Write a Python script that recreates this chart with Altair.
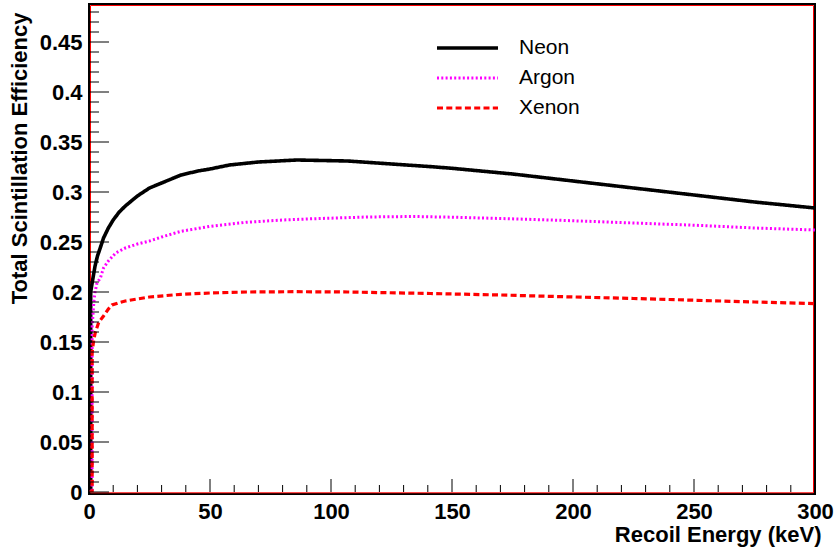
import altair as alt
import pandas as pd

# Total scintillation efficiency vs. nuclear recoil energy (keV)
neon_e = [0, 0.7, 0.7, 1.5, 2.5, 3.5, 4.5, 6, 8, 10, 12.5, 15, 20, 25, 30, 38, 45,
          50, 58, 70, 86, 107, 125, 141, 150, 175, 200, 225, 250, 275, 300]
neon_v = [0, 0, 0.200, 0.212, 0.226, 0.236, 0.243, 0.254, 0.264, 0.272, 0.280, 0.286,
          0.296, 0.304, 0.309, 0.317, 0.321, 0.323, 0.327, 0.330, 0.332, 0.331, 0.328,
          0.3254, 0.3237, 0.318, 0.311, 0.304, 0.297, 0.290, 0.284]

argon_e = [0, 1.3, 1.3, 2, 2.5, 3.3, 4.7, 6, 8, 11, 15, 20, 25, 30, 38, 50, 65, 80,
           93, 115, 134, 150, 170, 196, 225, 251, 275, 300]
argon_v = [0, 0, 0.165, 0.190, 0.200, 0.209, 0.214, 0.224, 0.231, 0.239, 0.244, 0.248,
           0.251, 0.255, 0.2607, 0.2657, 0.2697, 0.272, 0.2733, 0.275, 0.2755, 0.2748,
           0.2735, 0.2716, 0.269, 0.2667, 0.264, 0.262]

xenon_e = [0, 1.3, 1.3, 1.9, 2.6, 4, 6, 8, 9.5, 12, 15, 20, 25, 38, 50, 65, 85, 107,
           141, 170, 196, 225, 251, 275, 300]
xenon_v = [0, 0, 0.140, 0.151, 0.1595, 0.1695, 0.176, 0.183, 0.187, 0.189, 0.191,
           0.193, 0.195, 0.1977, 0.199, 0.200, 0.2003, 0.200, 0.1985, 0.197, 0.1953,
           0.1935, 0.1917, 0.190, 0.1884]

series_names = ["Neon", "Argon", "Xenon"]
series_colors = ["#000000", "#ff00ff", "#ff0000"]
series_dash = [[1, 0], [2, 2.3], [6, 3.3]]
series_width = [3.6, 3.0, 3.2]

y_major = [0, 0.05, 0.1, 0.15, 0.2, 0.25, 0.3, 0.35, 0.4, 0.45]
x_major = [0, 50, 100, 150, 200, 250, 300]
y_minor = [round(0.01 * k, 2) for k in range(0, 49) if k % 5 != 0]
x_minor = [10 * k for k in range(0, 31) if k % 5 != 0]

W, H = 726, 488
X_MAX, Y_MAX = 300, 0.488
FONT = "Liberation Sans"
kev_per_px = X_MAX / W
unit_per_px = Y_MAX / H

# one table: curve points plus inward tick segments (x, x2, y, y2 in data units)
rows = []
for name, es, vs in [("Neon", neon_e, neon_v), ("Argon", argon_e, argon_v),
                     ("Xenon", xenon_e, xenon_v)]:
    for i, (e, v) in enumerate(zip(es, vs)):
        rows.append({"kind": name, "E": e, "E2": e, "v": v, "v2": v, "i": i})
for vals, length in [(y_major, 20), (y_minor, 10)]:
    for t in vals:
        rows.append({"kind": "tick", "E": 0.0, "E2": length * kev_per_px,
                     "v": t, "v2": t, "i": 0})
for vals, length in [(x_major, 13), (x_minor, 7)]:
    for t in vals:
        rows.append({"kind": "tick", "E": t, "E2": t,
                     "v": 0.0, "v2": length * unit_per_px, "i": 0})
table = pd.DataFrame(rows)

xscale = alt.Scale(domain=[0, X_MAX], nice=False, zero=False)
yscale = alt.Scale(domain=[0, Y_MAX], nice=False, zero=False)

xax = alt.Axis(values=x_major, tickOpacity=0, domainOpacity=0, grid=False,
               labelFont=FONT, labelFontWeight="bold", labelFontSize=22,
               labelColor="black", labelPadding=4,
               title="Recoil Energy (keV)", titleFont=FONT, titleFontWeight="bold",
               titleFontSize=22, titleColor="black", titleAlign="right",
               titleBaseline="alphabetic", titleX=W + 6, titleY=49,
               labelFlush=False, labelOverlap=False)
yax = alt.Axis(values=y_major, tickOpacity=0, domainOpacity=0, grid=False,
               labelFont=FONT, labelFontWeight="bold", labelFontSize=22,
               labelColor="black", labelPadding=2, format="~g",
               title="Total Scintillation Efficiency", titleFont=FONT,
               titleFontWeight="bold", titleFontSize=22, titleColor="black",
               titleAngle=-90, titleAlign="right", titleBaseline="alphabetic",
               titleX=-63, titleY=8, labelFlush=False, labelOverlap=False)

base = alt.Chart(table)

frame_data = alt.Data(values=[{"k": 0}])
outer = alt.Chart(frame_data).mark_rect(
    fill="transparent", stroke="black", strokeWidth=2
).encode(x=alt.value(0), x2=alt.value(W), y=alt.value(0), y2=alt.value(H + 2))
inner = alt.Chart(frame_data).mark_rect(
    fill="transparent", stroke="#ff0000", strokeWidth=1
).encode(x=alt.value(1.5), x2=alt.value(W - 1.5), y=alt.value(1.5), y2=alt.value(H + 0.8))

ticks = base.transform_filter(alt.datum.kind == "tick").mark_rule(
    color="black", strokeWidth=1
).encode(
    x=alt.X("E:Q", scale=xscale, axis=xax), x2="E2:Q",
    y=alt.Y("v:Q", scale=yscale, axis=yax), y2="v2:Q",
)

curve_layers = []
for name, col, dash, sw in zip(series_names, series_colors, series_dash, series_width):
    line = base.transform_filter(alt.datum.kind == name).mark_line(
        color=col, strokeDash=dash, strokeWidth=sw, clip=True, interpolate="linear"
    ).encode(
        x=alt.X("E:Q", scale=xscale, axis=xax),
        y=alt.Y("v:Q", scale=yscale, axis=yax),
        order="i:O",
    )
    curve_layers.append(line)

# legend
legend_layers = []
for k, (name, col, dash, sw) in enumerate(zip(series_names, series_colors, series_dash, series_width)):
    ypos = 44 + 30 * k
    d = alt.Data(values=[{"label": name}])
    legend_layers.append(alt.Chart(d).mark_rule(color=col, strokeDash=dash, strokeWidth=sw).encode(
        x=alt.value(348), x2=alt.value(409), y=alt.value(ypos)))
    legend_layers.append(alt.Chart(d).mark_text(
        font=FONT, fontSize=21, color="black", align="left", baseline="middle").encode(
        x=alt.value(430), y=alt.value(ypos), text="label:N"))

chart = alt.layer(
    outer, inner, *curve_layers, ticks, *legend_layers
).properties(
    width=W, height=H,
    autosize=alt.AutoSizeParams(type="none"),
    padding={"left": 89, "top": 4, "right": 835 - 89 - W, "bottom": 550 - 4 - H},
    background="white",
).configure_view(stroke=None)

chart.save("out.html", embed_options={"renderer": "svg", "actions": False})
